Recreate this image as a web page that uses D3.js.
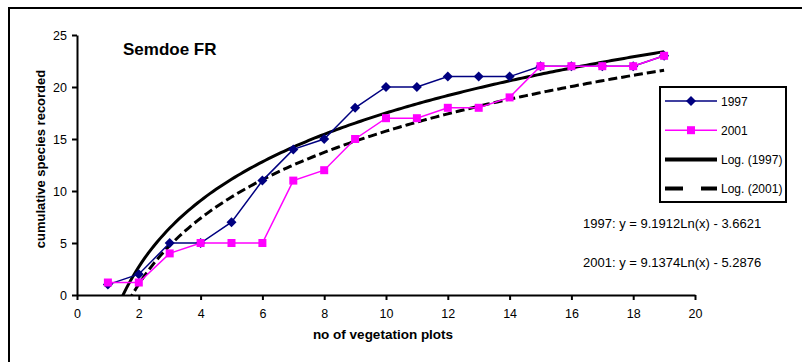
<!DOCTYPE html>
<html>
<head>
<meta charset="utf-8">
<script src="https://cdn.jsdelivr.net/npm/d3@7"></script>
<style>
  body { margin: 0; background: #fff; }
  svg { display: block; font-family: Arial, "Liberation Sans", sans-serif; }
</style>
</head>
<body>
<div class="container"></div>
<script>
// data
var plots = [1, 2, 3, 4, 5, 6, 7, 8, 9, 10, 11, 12, 13, 14, 15, 16, 17, 18, 19];
var species_1997 = [1, 2, 5, 5, 7, 11, 14, 15, 18, 20, 20, 21, 21, 21, 22, 22, 22, 22, 23];
var species_2001 = [1.2, 1.2, 4, 5, 5, 5, 11, 12, 15, 17, 17, 18, 18, 19, 22, 22, 22, 22, 23];
// log trend coefficients as printed: y = a*Ln(x) + b
var trend_1997 = [9.1912, -3.6621];
var trend_2001 = [9.1374, -5.2876];
var x_ticks = [0, 2, 4, 6, 8, 10, 12, 14, 16, 18, 20];
var y_ticks = [0, 5, 10, 15, 20, 25];

var W = 802, H = 362;
var margin = {top: 35, left: 77},
    width = 695 - 77,
    height = 295 - 35;

var svg = d3.select("div.container").append("svg")
    .attr("width", W)
    .attr("height", H);

// outer chart border (only top and left edges fall inside the picture)
svg.append("rect")
    .attr("x", 9).attr("y", 8)
    .attr("width", W + 20).attr("height", H + 20)
    .attr("fill", "none")
    .attr("stroke", "#000")
    .attr("stroke-width", 2);

var x_scale = d3.scaleLinear().domain([0, 20]).range([0, width]);
var y_scale = d3.scaleLinear().domain([0, 25]).range([height, 0]);

var g = svg.append("g")
    .attr("transform", "translate(" + margin.left + "," + margin.top + ")");

g.append("clipPath").attr("id", "plotclip")
  .append("rect")
    .attr("x", 0).attr("y", -5)
    .attr("width", width).attr("height", height + 5);

// trend lines
var trend_x = [];
for (var i = 0; i <= 180; i++) { trend_x.push(1 + i * 0.1); }

var trend_line = function (coef) {
  return d3.line()
      .x(function(d) { return x_scale(d); })
      .y(function(d) { return y_scale(coef[0] * Math.log(d) + coef[1]); })(trend_x);
};

var trends = g.append("g").attr("clip-path", "url(#plotclip)");

trends.append("path")
    .attr("d", trend_line(trend_2001))
    .attr("fill", "none")
    .attr("stroke", "#000")
    .attr("stroke-width", 3)
    .attr("stroke-dasharray", "9,4");

trends.append("path")
    .attr("d", trend_line(trend_1997))
    .attr("fill", "none")
    .attr("stroke", "#000")
    .attr("stroke-width", 3);

// series
var series_line = d3.line()
    .x(function(d) { return x_scale(d[0]); })
    .y(function(d) { return y_scale(d[1]); });

var pts_1997 = d3.zip(plots, species_1997);
var pts_2001 = d3.zip(plots, species_2001);

g.append("path")
    .attr("d", series_line(pts_1997))
    .attr("fill", "none")
    .attr("stroke", "#000080")
    .attr("stroke-width", 1.5);

g.selectAll(".diamond")
    .data(pts_1997)
  .enter().append("path")
    .attr("class", "diamond")
    .attr("d", "M0,-5L5,0L0,5L-5,0Z")
    .attr("transform", function(d) { return "translate(" + x_scale(d[0]) + "," + y_scale(d[1]) + ")"; })
    .attr("fill", "#000080");

g.append("path")
    .attr("d", series_line(pts_2001))
    .attr("fill", "none")
    .attr("stroke", "#ff00ff")
    .attr("stroke-width", 1.5);

g.selectAll(".square")
    .data(pts_2001)
  .enter().append("rect")
    .attr("class", "square")
    .attr("x", function(d) { return x_scale(d[0]) - 4; })
    .attr("y", function(d) { return y_scale(d[1]) - 4; })
    .attr("width", 8).attr("height", 8)
    .attr("fill", "#ff00ff");

// axes
var x_axis = g.append("g")
    .attr("transform", "translate(0," + height + ")")
    .call(d3.axisBottom(x_scale).tickValues(x_ticks).tickSize(5).tickSizeOuter(0).tickPadding(9));

var y_axis = g.append("g")
    .call(d3.axisLeft(y_scale).tickValues(y_ticks).tickSize(5).tickSizeOuter(0).tickPadding(5));

[x_axis, y_axis].forEach(function (ax) {
  ax.select(".domain").attr("stroke-width", 2);
  ax.selectAll(".tick line").attr("stroke-width", 2);
  ax.selectAll(".tick text")
      .attr("font-family", "Arial, 'Liberation Sans', sans-serif")
      .attr("font-size", 12.5)
      .attr("fill", "#000");
});

// titles
svg.append("text")
    .attr("x", 123).attr("y", 55)
    .attr("font-size", 17)
    .attr("font-weight", "bold")
    .text("Semdoe FR");

svg.append("text")
    .attr("x", 383).attr("y", 339)
    .attr("text-anchor", "middle")
    .attr("font-size", 13.5)
    .attr("font-weight", "bold")
    .text("no of vegetation plots");

svg.append("text")
    .attr("transform", "translate(45,159) rotate(-90)")
    .attr("text-anchor", "middle")
    .attr("font-size", 13)
    .attr("font-weight", "bold")
    .text("cumulative species recorded");

// equations
svg.append("text")
    .attr("x", 583).attr("y", 228)
    .attr("font-size", 13)
    .text("1997: y = " + trend_1997[0] + "Ln(x) - " + Math.abs(trend_1997[1]));

svg.append("text")
    .attr("x", 583).attr("y", 267)
    .attr("font-size", 13)
    .text("2001: y = " + trend_2001[0] + "Ln(x) - " + Math.abs(trend_2001[1]));

// legend
var legend = svg.append("g").attr("transform", "translate(660,87)");
legend.append("rect")
    .attr("width", 126).attr("height", 115)
    .attr("fill", "#fff")
    .attr("stroke", "#000")
    .attr("stroke-width", 2);

var legend_items = [
  {label: "1997", color: "#000080", width: 1.5, dash: null, marker: "diamond"},
  {label: "2001", color: "#ff00ff", width: 1.5, dash: null, marker: "square"},
  {label: "Log. (1997)", color: "#000", width: 4, dash: null, marker: null},
  {label: "Log. (2001)", color: "#000", width: 4, dash: "18,18", marker: null}
];

var item = legend.selectAll(".item")
    .data(legend_items)
  .enter().append("g")
    .attr("class", "item")
    .attr("transform", function(d, i) { return "translate(0," + (14 + i * 29.2) + ")"; });

item.append("line")
    .attr("x1", 5).attr("x2", 57)
    .attr("stroke", function(d) { return d.color; })
    .attr("stroke-width", function(d) { return d.width; })
    .attr("stroke-dasharray", function(d) { return d.dash; });

item.filter(function(d) { return d.marker === "diamond"; })
  .append("path")
    .attr("d", "M31,-5L36,0L31,5L26,0Z")
    .attr("fill", "#000080");

item.filter(function(d) { return d.marker === "square"; })
  .append("rect")
    .attr("x", 27).attr("y", -4)
    .attr("width", 8).attr("height", 8)
    .attr("fill", "#ff00ff");

item.append("text")
    .attr("x", 61).attr("y", 4.5)
    .attr("font-size", 12)
    .text(function(d) { return d.label; });
</script>
</body>
</html>
